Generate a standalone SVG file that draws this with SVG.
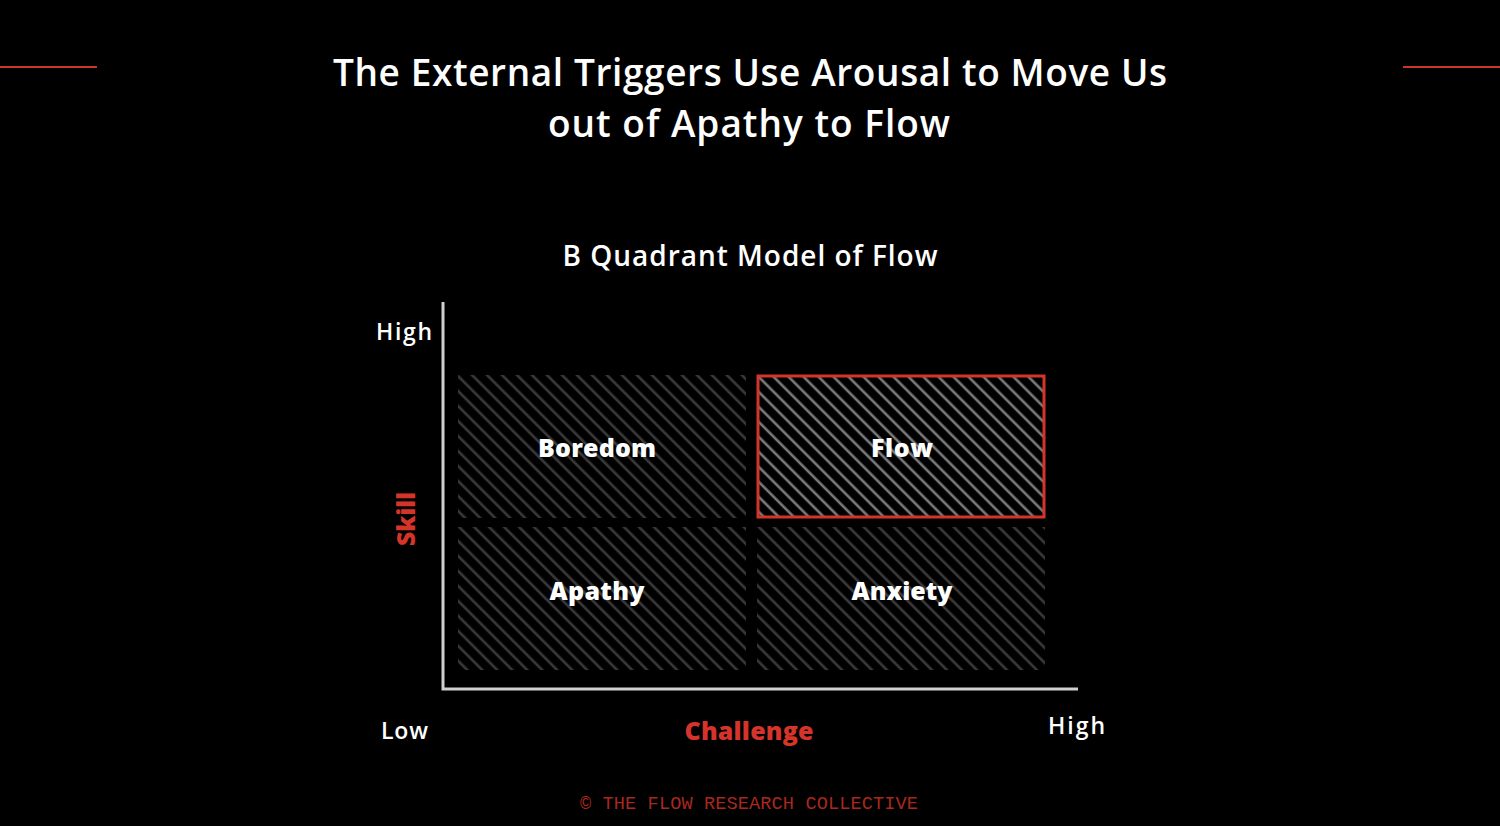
<svg xmlns="http://www.w3.org/2000/svg" width="1500" height="826" viewBox="0 0 1500 826">
<defs>
<style>
.t{font-family:"Open Sans","Liberation Sans",sans-serif;fill:#fff}
.title{font-size:37px;font-weight:600}
.sub{font-size:28px;font-weight:600}
.ax{font-size:23px;font-weight:600}
.q{font-size:25px;font-weight:800;text-anchor:middle}
.red{fill:#d4342a;font-weight:800;font-size:25px}
.foot{font-family:"Liberation Mono","DejaVu Sans Mono",monospace;font-size:18.6px;fill:#a8281f}
</style>
<pattern id="hd" width="10.6" height="10.6" patternUnits="userSpaceOnUse" patternTransform="rotate(-45)">
<line x1="5" y1="-1" x2="5" y2="12" stroke="#3a3a3a" stroke-width="2.6"/>
</pattern>
<pattern id="hl" width="10.6" height="10.6" patternUnits="userSpaceOnUse" patternTransform="rotate(-45)">
<line x1="5" y1="-1" x2="5" y2="12" stroke="#7a7a7a" stroke-width="2.6"/>
</pattern>
</defs>
<rect width="1500" height="826" fill="#000"/>
<g id="decor">
<line x1="0" y1="67" x2="97" y2="67" stroke="#c9362c" stroke-width="2"/>
<line x1="1403" y1="67" x2="1500" y2="67" stroke="#c9362c" stroke-width="2"/>
</g>
<g id="title">
<text class="t title" x="750" y="86" text-anchor="middle" textLength="834">The External Triggers Use Arousal to Move Us</text>
<text class="t title" x="749" y="137" text-anchor="middle" textLength="402">out of Apathy to Flow</text>
</g>
<text class="t sub" x="750" y="266" text-anchor="middle" textLength="375">B Quadrant Model of Flow</text>
<g id="axes">
<polyline points="443,302 443,689 1078,689" fill="none" stroke="#d0d0d0" stroke-width="3"/>
</g>
<g id="q-boredom">
<rect x="458" y="375" width="288" height="143" fill="url(#hd)"/>
<text class="t q" x="597" y="457" textLength="118">Boredom</text>
</g>
<g id="q-flow">
<rect x="758" y="376" width="286" height="141" fill="url(#hl)" stroke="#d4342a" stroke-width="3"/>
<text class="t q" x="902" y="457" textLength="62">Flow</text>
</g>
<g id="q-apathy">
<rect x="458" y="527" width="288" height="143" fill="url(#hd)"/>
<text class="t q" x="597" y="600" textLength="95">Apathy</text>
</g>
<g id="q-anxiety">
<rect x="757" y="527" width="288" height="143" fill="url(#hd)"/>
<text class="t q" x="902" y="600" textLength="101">Anxiety</text>
</g>
<g id="labels">
<text class="t ax" x="376" y="340" textLength="56">High</text>
<text class="t ax" x="381" y="739" textLength="47">Low</text>
<text class="t ax" x="1048" y="734" textLength="57">High</text>
<text class="t red" x="749" y="740" text-anchor="middle" textLength="129">Challenge</text>
<text class="t red" transform="translate(415,519) rotate(-90)" text-anchor="middle" textLength="54">Skill</text>
</g>
<text class="foot" x="749" y="809" text-anchor="middle" textLength="338">© THE FLOW RESEARCH COLLECTIVE</text>
</svg>
